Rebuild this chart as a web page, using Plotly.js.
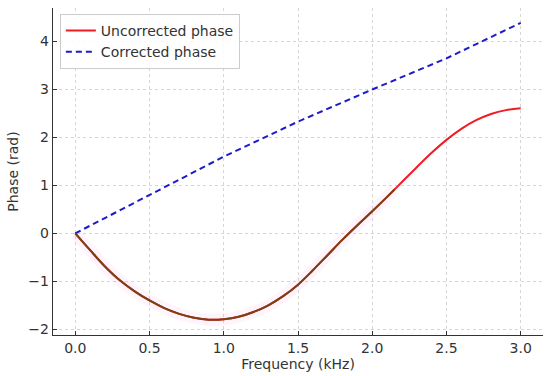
<!DOCTYPE html>
<html>
<head>
<meta charset="utf-8">
<script src="https://cdn.plot.ly/plotly-3.0.1.min.js"></script>
<style>html,body{margin:0;padding:0;background:#fff;}#chart{width:550px;height:376px;}</style>
</head>
<body>
<div id="chart"></div>
<script>
// Frequency in kHz
const freq = [0.0, 0.1, 0.2, 0.3, 0.4, 0.5, 0.6, 0.7, 0.8, 0.9, 1.0, 1.1, 1.2, 1.3, 1.4, 1.5, 1.6, 1.7, 1.8, 1.9, 2.0, 2.1, 2.15, 2.2, 2.3, 2.4, 2.5, 2.6, 2.7, 2.8, 2.9, 3.0];
const uncorrected = [0.0, -0.35, -0.69, -0.98, -1.21, -1.40, -1.56, -1.68, -1.76, -1.80, -1.79, -1.74, -1.64, -1.50, -1.31, -1.07, -0.77, -0.45, -0.13, 0.17, 0.46, 0.76, 0.915, 1.07, 1.38, 1.68, 1.95, 2.18, 2.36, 2.49, 2.57, 2.61];
const corrFreq = [0.0, 0.5, 1.0, 1.5, 2.0, 2.5, 3.0];
const corrected = [0.0, 0.80, 1.60, 2.33, 3.0, 3.65, 4.39];
const overlapEnd = 22; // index of last point of overlaid segment (2.15 kHz)
const xTicks = [0.0, 0.5, 1.0, 1.5, 2.0, 2.5, 3.0];
const xTickText = ["0.0", "0.5", "1.0", "1.5", "2.0", "2.5", "3.0"];
const yTicks = [-2, -1, 0, 1, 2, 3, 4];
const yTickText = ["\u22122", "\u22121", "0", "1", "2", "3", "4"];

const segX = freq.slice(0, overlapEnd + 1);
const segY = uncorrected.slice(0, overlapEnd + 1);

const traces = [
  {x: segX, y: segY, mode: 'lines', line: {color: 'rgba(255,110,215,0.08)', width: 12, shape: 'spline'}, showlegend: false, hoverinfo: 'skip'},
  {x: freq, y: uncorrected, mode: 'lines', name: 'Uncorrected phase', line: {color: '#ee1c25', width: 2, shape: 'spline'}},
  {x: corrFreq, y: corrected, mode: 'lines', name: 'Corrected phase', line: {color: '#1c1cc8', width: 2, dash: '6px,4px'}},
  {x: segX, y: segY, mode: 'lines', line: {color: '#7a4214', width: 2, shape: 'spline'}, showlegend: false, hoverinfo: 'skip'}
];

const axisCommon = {
  showline: true, linecolor: '#333', linewidth: 1.2,
  ticks: 'inside', ticklen: 4, tickcolor: '#333', tickwidth: 1,
  showgrid: true, gridcolor: '#d6d6d6', griddash: 'dot', gridwidth: 1,
  zeroline: false, mirror: false,
  tickfont: {family: 'DejaVu Sans', size: 14, color: '#333'}
};

const layout = {
  width: 550, height: 376,
  margin: {l: 53, r: 7, t: 8, b: 41},
  paper_bgcolor: '#fff', plot_bgcolor: '#fff',
  font: {family: 'DejaVu Sans', color: '#333'},
  xaxis: Object.assign({}, axisCommon, {
    range: [-0.15, 3.15], tickvals: xTicks, ticktext: xTickText,
    title: {text: 'Frequency (kHz)', font: {family: 'DejaVu Sans', size: 14, color: '#333'}, standoff: 4}
  }),
  yaxis: Object.assign({}, axisCommon, {
    range: [-2.12, 4.70], tickvals: yTicks, ticktext: yTickText,
    title: {text: 'Phase (rad)', font: {family: 'DejaVu Sans', size: 14, color: '#333'}, standoff: 6}
  }),
  legend: {
    x: 0.014, y: 0.982, xanchor: 'left', yanchor: 'top',
    bgcolor: 'rgba(255,255,255,0.85)', bordercolor: '#cccccc', borderwidth: 1,
    font: {family: 'DejaVu Sans', size: 14, color: '#333'},
    itemwidth: 30, tracegroupgap: 0
  },
  showlegend: true
};

Plotly.newPlot('chart', traces, layout, {displayModeBar: false, staticPlot: true});
</script>
</body>
</html>
